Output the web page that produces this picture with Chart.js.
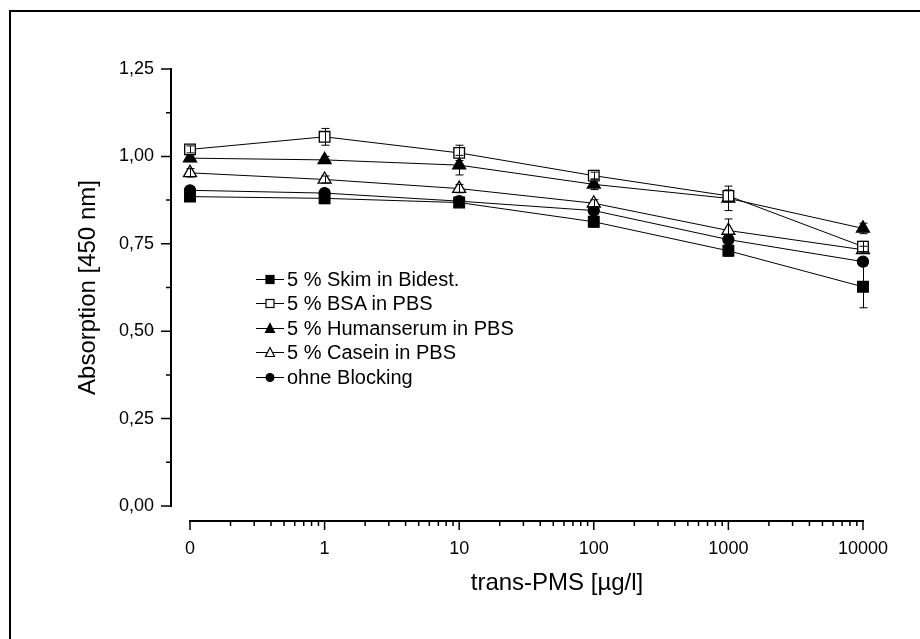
<!DOCTYPE html>
<html>
<head>
<meta charset="utf-8">
<script src="https://cdn.jsdelivr.net/npm/chart.js@4.4.1/dist/chart.umd.min.js"></script>
<style>
  html, body { margin: 0; padding: 0; background: #fff; overflow: hidden; }
  #wrap { position: relative; width: 920px; height: 639px; overflow: hidden; font-family: Arial, "Liberation Sans", sans-serif; color: #000; }
  #frame { position: absolute; left: 9px; top: 10px; width: 1000px; height: 1000px; border: 2px solid #000; }
  #c { position: absolute; left: 0; top: 0; }
  #legend { position: absolute; left: 256px; top: 267px; font-size: 20px; }
  .row { height: 24.5px; display: flex; align-items: center; white-space: nowrap; }
  .row svg { margin-right: 3px; }
  #xtitle { position: absolute; left: 557px; top: 582px; transform: translate(-50%, -50%); font-size: 24px; white-space: nowrap; }
</style>
</head>
<body>
<div id="wrap">
  <div id="frame"></div>
  <canvas id="c" width="920" height="639"></canvas>
  <div id="legend"></div>
  <div id="xtitle">trans-PMS [µg/l]</div>
</div>
<script>
// x = 0 is drawn one decade below 1 on the log axis
const xValues     = [0.1, 1, 10, 100, 1000, 10000];
const xTickLabels = ["0", "1", "10", "100", "1000", "10000"];
const yTicks      = [0, 0.25, 0.5, 0.75, 1, 1.25];
const yMinorTicks = [0.125, 0.375, 0.625, 0.875, 1.125];

const seriesNames = ["5 % Skim in Bidest.", "5 % BSA in PBS", "5 % Humanserum in PBS", "5 % Casein in PBS", "ohne Blocking"];

const skim      = [0.885, 0.880, 0.868, 0.813, 0.730, 0.627];
const skimErr   = [0.010, 0.015, 0.008, 0.015, 0.015, 0.060];
const bsa       = [1.020, 1.056, 1.010, 0.945, 0.887, 0.742];
const bsaErr    = [0.010, 0.024, 0.022, 0.010, 0.017, 0.015];
const human     = [0.995, 0.990, 0.975, 0.920, 0.880, 0.794];
const humanErr  = [0.010, 0.010, 0.028, 0.015, 0.035, 0.015];
const casein    = [0.953, 0.934, 0.908, 0.866, 0.788, 0.733];
const caseinErr = [0.012, 0.010, 0.012, 0.010, 0.033, 0.010];
const ohne      = [0.903, 0.895, 0.872, 0.845, 0.762, 0.699];
const ohneErr   = [0.010, 0.010, 0.010, 0.010, 0.012, 0.010];

const styles = [
  { shape: "rect",     fill: "#000", radius: 7.5 },
  { shape: "rect",     fill: "#fff", radius: 7.5 },
  { shape: "triangle", fill: "#000", radius: 7.5 },
  { shape: "triangle", fill: "#fff", radius: 7.5 },
  { shape: "circle",   fill: "#000", radius: 5.5 }
];
const allValues = [skim, bsa, human, casein, ohne];
const allErrors = [skimErr, bsaErr, humanErr, caseinErr, ohneErr];

const datasets = allValues.map((vals, i) => ({
  label: seriesNames[i],
  data: xValues.map((x, j) => ({ x: x, y: vals[j] })),
  errors: allErrors[i],
  borderColor: "#000",
  borderWidth: 1,
  pointStyle: styles[i].shape,
  pointRadius: styles[i].radius,
  pointBackgroundColor: styles[i].fill,
  pointBorderColor: "#000",
  pointBorderWidth: 1.3,
  fill: false,
  clip: false,
  tension: 0
}));

// Origin-style offset axes with major + minor ticks
const offsetAxes = {
  id: "offsetAxes",
  afterDraw(chart) {
    const { ctx, chartArea, scales: { x, y } } = chart;
    const ax = chartArea.left - 19;
    const ay = chartArea.bottom + 15;
    ctx.save();
    ctx.strokeStyle = "#000";
    ctx.lineCap = "butt";

    ctx.lineWidth = 2;
    ctx.beginPath();
    ctx.moveTo(ax, y.getPixelForValue(0) + 1);
    ctx.lineTo(ax, y.getPixelForValue(1.25) - 1);
    ctx.moveTo(x.getPixelForValue(xValues[0]) - 1, ay);
    ctx.lineTo(x.getPixelForValue(xValues[xValues.length - 1]) + 1, ay);
    ctx.stroke();

    ctx.lineWidth = 1.5;
    ctx.beginPath();
    yTicks.forEach(v => { const py = y.getPixelForValue(v); ctx.moveTo(ax, py); ctx.lineTo(ax - 10, py); });
    yMinorTicks.forEach(v => { const py = y.getPixelForValue(v); ctx.moveTo(ax, py); ctx.lineTo(ax - 5, py); });
    xValues.forEach(v => { const px = x.getPixelForValue(v); ctx.moveTo(px, ay); ctx.lineTo(px, ay + 9); });
    for (let d = 0; d < xValues.length - 1; d++) {
      for (let k = 2; k <= 9; k++) {
        const px = x.getPixelForValue(xValues[d] * k);
        ctx.moveTo(px, ay); ctx.lineTo(px, ay + 5);
      }
    }
    ctx.stroke();
    ctx.restore();
  }
};

const errorBars = {
  id: "errorBars",
  afterDatasetsDraw(chart) {
    const { ctx, scales: { x, y } } = chart;
    ctx.save();
    ctx.strokeStyle = "#000";
    ctx.lineWidth = 1;
    chart.data.datasets.forEach(ds => {
      ds.data.forEach((p, j) => {
        const e = ds.errors[j];
        const px = Math.round(x.getPixelForValue(p.x)) + 0.5;
        const top = y.getPixelForValue(p.y + e);
        const bot = y.getPixelForValue(p.y - e);
        ctx.beginPath();
        ctx.moveTo(px, top); ctx.lineTo(px, bot);
        ctx.moveTo(px - 4, top); ctx.lineTo(px + 4, top);
        ctx.moveTo(px - 4, bot); ctx.lineTo(px + 4, bot);
        ctx.stroke();
      });
    });
    ctx.restore();
  }
};

Chart.defaults.font.family = "Arial, 'Liberation Sans', sans-serif";
Chart.defaults.color = "#000";

new Chart(document.getElementById("c"), {
  type: "line",
  data: { datasets },
  options: {
    responsive: false,
    animation: false,
    devicePixelRatio: 1,
    layout: { padding: { left: 10, top: 69, right: 56, bottom: 0 } },
    plugins: { legend: { display: false }, tooltip: { enabled: false } },
    scales: {
      x: {
        type: "logarithmic",
        min: xValues[0], max: xValues[xValues.length - 1],
        afterBuildTicks: s => { s.ticks = xValues.map(v => ({ value: v })); },
        afterFit: s => { s.height = 639 - 506; },
        grid: { display: false, drawTicks: false },
        border: { display: false },
        ticks: { autoSkip: false, maxRotation: 0, padding: 32, font: { size: 18 },
                 callback: (v, i) => xTickLabels[i] },
        title: { display: false }
      },
      y: {
        min: 0, max: 1.25,
        afterBuildTicks: s => { s.ticks = yTicks.map(v => ({ value: v })); },
        afterFit: s => { s.width = 180; },
        grid: { display: false, drawTicks: false },
        border: { display: false },
        ticks: { padding: 36, font: { size: 18 },
                 callback: v => v.toFixed(2).replace(".", ",") },
        title: { display: true, text: "Absorption [450 nm]", font: { size: 24 }, padding: { top: 64, bottom: 0 } }
      }
    }
  },
  plugins: [offsetAxes, errorBars]
});

// legend: line - marker - line, then label
const legend = document.getElementById("legend");
seriesNames.forEach((name, i) => {
  const st = styles[i];
  let mark;
  if (st.shape === "rect") mark = `<rect x="10" y="6.5" width="8" height="8" fill="${st.fill}" stroke="#000" stroke-width="1.2"/>`;
  else if (st.shape === "triangle") mark = `<polygon points="14,5.5 18.5,14.5 9.5,14.5" fill="${st.fill}" stroke="#000" stroke-width="1.2"/>`;
  else mark = `<circle cx="14" cy="10.5" r="4.5" fill="#000"/>`;
  const row = document.createElement("div");
  row.className = "row";
  row.innerHTML = `<svg width="28" height="21"><line x1="0" y1="10.5" x2="28" y2="10.5" stroke="#000" stroke-width="1"/>${mark}</svg><span>${name}</span>`;
  legend.appendChild(row);
});
</script>
</body>
</html>
